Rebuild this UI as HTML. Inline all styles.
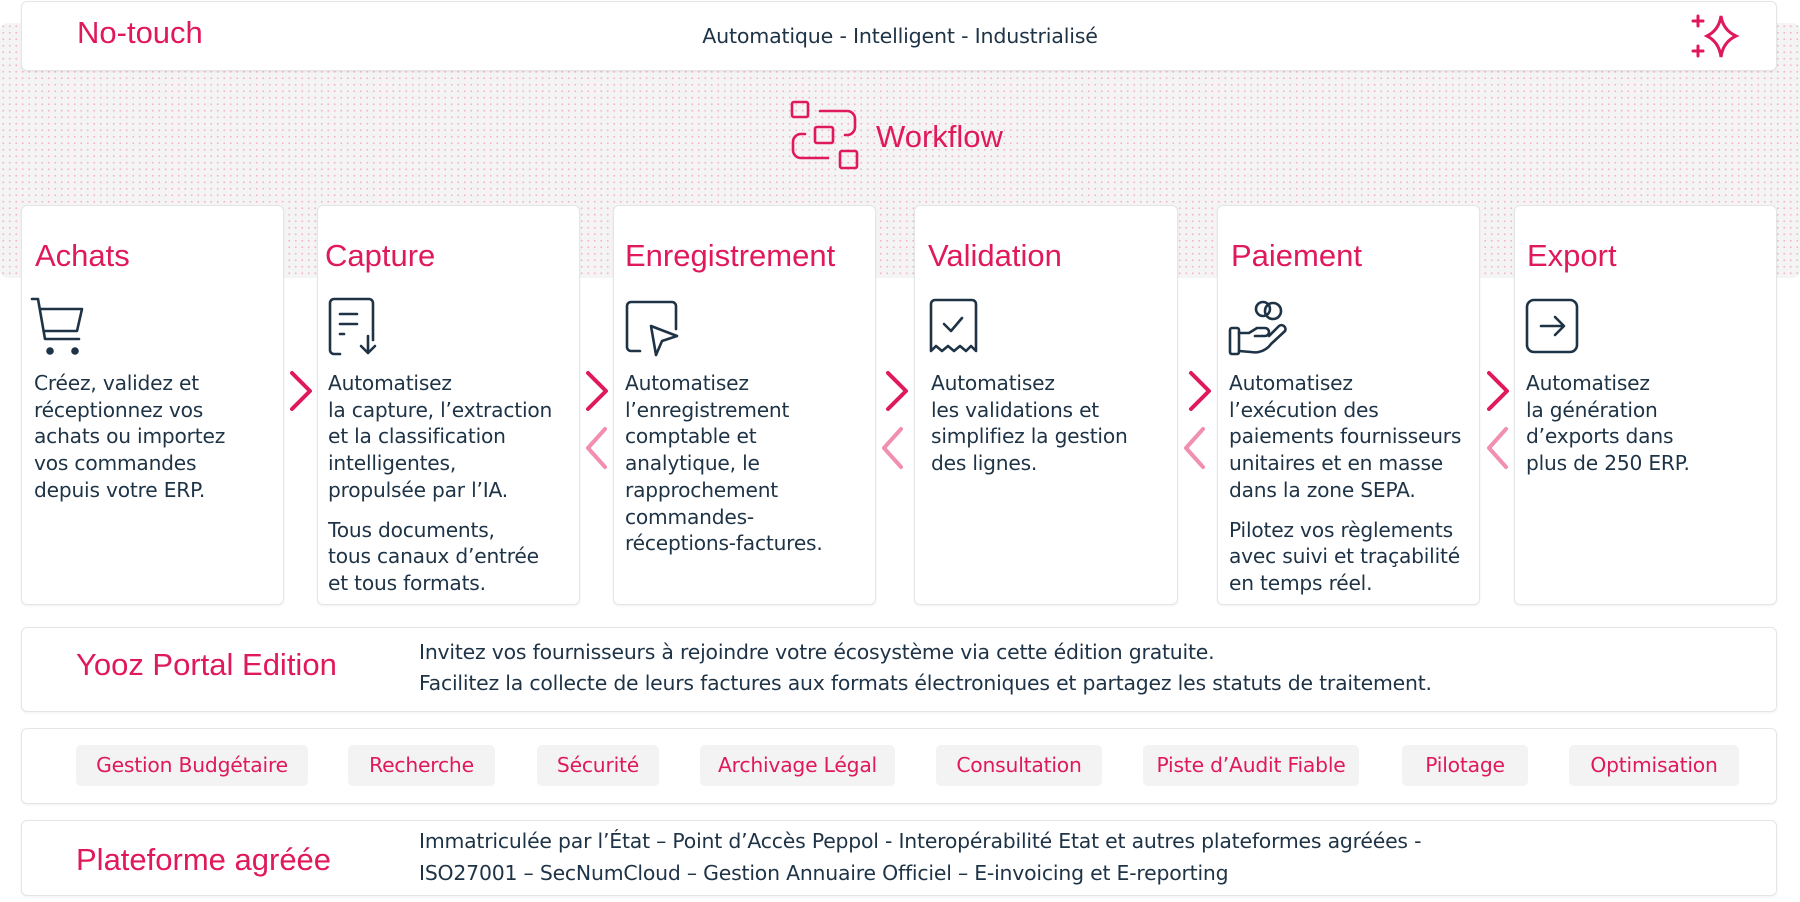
<!DOCTYPE html>
<html><head><meta charset="utf-8"><style>
*{margin:0;padding:0;box-sizing:border-box}
body{width:1800px;height:902px;background:#fff;position:relative;overflow:hidden;font-family:"Liberation Sans",sans-serif;color:#1e3346}
.a{position:absolute}
.box{position:absolute;background:#fff;border:1px solid #e3e5e8;border-radius:6px;box-shadow:0 1px 2px rgba(0,0,0,.06)}
.dots{position:absolute;left:0;top:23px;width:1800px;height:255px;background-color:#f4f4f5;background-image:radial-gradient(circle,#f4b3c7 0.8px,transparent 1.1px);background-size:6.5px 6.5px;border-radius:8px}
.card .t{position:absolute;top:32px;font-size:31px;color:#e0195a;white-space:nowrap;line-height:36px}
.card .b{position:absolute;top:164px;font-family:"DejaVu Sans",sans-serif;font-size:20.2px;line-height:26.7px;white-space:nowrap;color:#1e3346;letter-spacing:-0.2px}
.card .b p+p{margin-top:13px}
.card svg{position:absolute;top:91px}
.tag{position:absolute;top:745px;height:41px;background:#f3f3f4;border-radius:5px;color:#e0195a;font-family:"DejaVu Sans",sans-serif;font-size:20.3px;line-height:41px;text-align:center;white-space:nowrap;letter-spacing:-0.2px}
.big{font-size:31px;color:#e0195a;white-space:nowrap}
.txt{font-family:"DejaVu Sans",sans-serif;font-size:20.4px;white-space:nowrap;line-height:31px;letter-spacing:-0.2px}
</style></head><body>
<div class="dots"></div>

<div class="box" style="left:21px;top:1px;width:1756px;height:70px"></div>
<div class="a big" style="left:77px;top:15px;line-height:36px">No-touch</div>
<div class="a" style="left:0;width:1800px;text-align:center;top:24px;font-family:'DejaVu Sans',sans-serif;font-size:20.6px;line-height:24px;letter-spacing:-0.2px">Automatique - Intelligent - Industrialisé</div>
<svg class="a" style="left:1690px;top:12px" width="56" height="50" viewBox="0 0 56 50" fill="none" stroke="#e0195a" stroke-width="3" stroke-linecap="round">
<path d="M31 4 Q33 18 46 24 Q33 30 31 45 Q29 30 17 24 Q29 18 31 4Z"/>
<path d="M8 4v10M3 9h10M8 34v10M3 39h10"/>
</svg>

<svg class="a" style="left:785px;top:96px" width="80" height="80" viewBox="785 96 80 80" fill="none" stroke="#e0195a" stroke-width="2.6" stroke-linecap="round">
<rect x="792" y="102" width="16" height="15" rx="2"/>
<rect x="815" y="127" width="18" height="16" rx="2"/>
<rect x="840" y="151" width="17" height="17" rx="2"/>
<path d="M820 111h27a8 8 0 0 1 8 8v8a8 8 0 0 1-8 8h-2"/>
<path d="M805 134h-4a8 8 0 0 0-8 8v8a8 8 0 0 0 8 8h27"/>
</svg>
<div class="a big" style="left:876px;top:119px;line-height:36px">Workflow</div>

<div class="box card" style="left:21px;top:205px;width:263px;height:400px">
<div class="t" style="left:13px">Achats</div>
<svg style="left:8px" width="60" height="60" viewBox="0 0 60 60" fill="none" stroke="#1e3346" stroke-width="2.6" stroke-linejoin="round" stroke-linecap="round"><path d="M2 2h6l7 40h34"/><path d="M10 12h42l-5 22H14"/><circle cx="20" cy="54" r="2.5" fill="#1e3346"/><circle cx="45" cy="54" r="2.5" fill="#1e3346"/></svg>
<div class="b" style="left:12px"><p>Créez, validez et<br>réceptionnez vos<br>achats ou importez<br>vos commandes<br>depuis votre ERP.</p></div>
</div>
<div class="box card" style="left:317px;top:205px;width:263px;height:400px">
<div class="t" style="left:7px">Capture</div>
<svg style="left:10px" width="60" height="60" viewBox="0 0 60 60" fill="none" stroke="#1e3346" stroke-width="2.6" stroke-linecap="round" stroke-linejoin="round"><path d="M12 57H6a4 4 0 0 1-4-4V6a4 4 0 0 1 4-4h35a4 4 0 0 1 4 4v37"/><path d="M12 17h17M12 27h17M12 37h4"/><path d="M40 39v17M33 49l7 7 7-7"/></svg>
<div class="b" style="left:10px"><p>Automatisez<br>la capture, l’extraction<br>et la classification<br>intelligentes,<br>propulsée par l’IA.</p><p>Tous documents,<br>tous canaux d’entrée<br>et tous formats.</p></div>
</div>
<div class="box card" style="left:613px;top:205px;width:263px;height:400px">
<div class="t" style="left:11px">Enregistrement</div>
<svg style="left:10px" width="60" height="60" viewBox="0 0 60 60" fill="none" stroke="#1e3346" stroke-width="2.6" stroke-linecap="round" stroke-linejoin="round"><path d="M16 54H7a4 4 0 0 1-4-4V9a4 4 0 0 1 4-4h41a4 4 0 0 1 4 4v23"/><path d="M27 29l26 10-15 5-6 14z"/></svg>
<div class="b" style="left:11px"><p>Automatisez<br>l’enregistrement<br>comptable et<br>analytique, le<br>rapprochement<br>commandes-<br>réceptions-factures.</p></div>
</div>
<div class="box card" style="left:914px;top:205px;width:264px;height:400px">
<div class="t" style="left:13px">Validation</div>
<svg style="left:14px" width="60" height="60" viewBox="0 0 60 60" fill="none" stroke="#1e3346" stroke-width="2.6" stroke-linecap="round" stroke-linejoin="round"><path d="M2 54V7a4 4 0 0 1 4-4h37a4 4 0 0 1 4 4v47l-5-5-5 5-6-5-6 5-6-5-6 5-6-5z"/><path d="M15 27l7 7 11-13"/></svg>
<div class="b" style="left:16px"><p>Automatisez<br>les validations et<br>simplifiez la gestion<br>des lignes.</p></div>
</div>
<div class="box card" style="left:1217px;top:205px;width:263px;height:400px">
<div class="t" style="left:13px">Paiement</div>
<svg style="left:10px" width="64" height="64" viewBox="0 0 64 64" fill="none" stroke="#1e3346" stroke-width="2.6" stroke-linecap="round" stroke-linejoin="round"><circle cx="35" cy="12" r="7"/><circle cx="45" cy="14" r="8"/><rect x="2" y="31" width="9" height="26" rx="2"/><path d="M11 36h10l8-5h8a4 4 0 0 1 0 8H27"/><path d="M11 54l12 1a20 20 0 0 0 20-8l14-13a4 4 0 0 0-6-5l-10 10"/></svg>
<div class="b" style="left:11px"><p>Automatisez<br>l’exécution des<br>paiements fournisseurs<br>unitaires et en masse<br>dans la zone SEPA.</p><p>Pilotez vos règlements<br>avec suivi et traçabilité<br>en temps réel.</p></div>
</div>
<div class="box card" style="left:1514px;top:205px;width:263px;height:400px">
<div class="t" style="left:12px">Export</div>
<svg style="left:10px" width="60" height="60" viewBox="0 0 60 60" fill="none" stroke="#1e3346" stroke-width="2.6" stroke-linecap="round" stroke-linejoin="round"><rect x="2" y="3" width="50" height="52" rx="7"/><path d="M16 29h22M30 20l9 9-9 9"/></svg>
<div class="b" style="left:11px"><p>Automatisez<br>la génération<br>d’exports dans<br>plus de 250 ERP.</p></div>
</div>

<svg class="a" style="left:0;top:0" width="1800" height="902" fill="none" stroke-width="4" stroke-linecap="round" stroke-linejoin="round">
<g stroke="#e0195a">
<path d="M292 373l18 18-18 18"/>
<path d="M588 373l18 18-18 18"/>
<path d="M888 373l18 18-18 18"/>
<path d="M1191 373l18 18-18 18"/>
<path d="M1489 373l18 18-18 18"/>
</g>
<g stroke="#f28fb0">
<path d="M605 429l-17 19 17 19"/>
<path d="M901 429l-17 19 17 19"/>
<path d="M1203 429l-17 19 17 19"/>
<path d="M1506 429l-17 19 17 19"/>
</g>
</svg>

<div class="box" style="left:21px;top:627px;width:1756px;height:85px"></div>
<div class="a big" style="left:76px;top:647px;line-height:36px">Yooz Portal Edition</div>
<div class="a txt" style="left:419px;top:637px">Invitez vos fournisseurs à rejoindre votre écosystème via cette édition gratuite.<br>Facilitez la collecte de leurs factures aux formats électroniques et partagez les statuts de traitement.</div>

<div class="box" style="left:21px;top:728px;width:1756px;height:76px"></div>
<div class="tag" style="left:76px;width:232px">Gestion Budgétaire</div>
<div class="tag" style="left:348px;width:147px">Recherche</div>
<div class="tag" style="left:537px;width:122px">Sécurité</div>
<div class="tag" style="left:700px;width:195px">Archivage Légal</div>
<div class="tag" style="left:936px;width:166px">Consultation</div>
<div class="tag" style="left:1143px;width:216px">Piste d’Audit Fiable</div>
<div class="tag" style="left:1402px;width:126px">Pilotage</div>
<div class="tag" style="left:1569px;width:170px">Optimisation</div>

<div class="box" style="left:21px;top:820px;width:1756px;height:76px"></div>
<div class="a big" style="left:76px;top:842px;line-height:36px">Plateforme agréée</div>
<div class="a txt" style="left:419px;top:825px;line-height:32px">Immatriculée par l’État – Point d’Accès Peppol - Interopérabilité Etat et autres plateformes agréées -<br>ISO27001 – SecNumCloud – Gestion Annuaire Officiel – E-invoicing et E-reporting</div>
</body></html>
